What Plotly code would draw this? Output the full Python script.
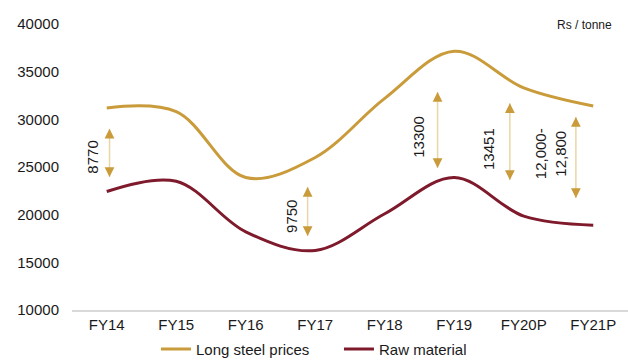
import plotly.graph_objects as go

# Fiscal years on the x axis
years = ["FY14", "FY15", "FY16", "FY17", "FY18", "FY19", "FY20P", "FY21P"]

# Rs / tonne
long_steel = [31200, 30800, 23900, 26000, 32200, 37150, 33300, 31400]
raw_material = [22430, 23500, 18200, 16250, 20100, 23900, 19850, 18900]

# Spread labels written beside the double-headed arrows
spread_labels = ["8770", "9750", "13300", "13451", "12,000-<br>12,800"]

GOLD = "#C99B3A"
MAROON = "#7E1A2B"
PALE = "#E9D6A6"
FONT = "Arial, Liberation Sans, sans-serif"

fig = go.Figure()
fig.add_trace(go.Scatter(
    x=years, y=long_steel, name="Long steel prices", mode="lines",
    line=dict(color=GOLD, width=3, shape="spline", smoothing=1.0),
))
fig.add_trace(go.Scatter(
    x=years, y=raw_material, name="Raw material", mode="lines",
    line=dict(color=MAROON, width=3, shape="spline", smoothing=1.0),
))

# Arrow placement: (category position, lower tip, upper tip, label x, label y)
arrow_geom = [
    (0.04, 23950, 29000, -0.21, 26000),
    (2.89, 17760, 22900, 2.65, 19860),
    (4.76, 24900, 32870, 4.49, 28150),
    (5.80, 23640, 31700, 5.50, 26890),
    (6.75, 21750, 30250, 6.38, 26360),
]

for (ax_x, y_lo, y_hi, lx, ly), label in zip(arrow_geom, spread_labels):
    # pale shaft
    fig.add_shape(type="line", x0=ax_x, x1=ax_x, y0=y_lo, y1=y_hi,
                  xref="x", yref="y", line=dict(color=PALE, width=1.5))
    # arrow heads at both ends
    for tip, off in ((y_hi, 9), (y_lo, -9)):
        fig.add_annotation(x=ax_x, y=tip, xref="x", yref="y", text="",
                           showarrow=True, ax=0, ay=off, arrowhead=2,
                           arrowsize=1.3, arrowwidth=1.5, arrowcolor=GOLD)
    fig.add_annotation(x=lx, y=ly, xref="x", yref="y", text=label,
                       showarrow=False, textangle=-90,
                       font=dict(family=FONT, size=15, color="#1a1a1a"))

fig.add_annotation(x=0.975, y=0.9965, xref="paper", yref="paper",
                   text="Rs / tonne", showarrow=False, xanchor="right",
                   yanchor="middle", font=dict(family=FONT, size=12, color="#1a1a1a"))

fig.update_layout(
    width=628, height=362,
    margin=dict(l=72, r=0, t=24, b=52, autoexpand=False),
    paper_bgcolor="white", plot_bgcolor="white",
    font=dict(family=FONT, size=15, color="#1a1a1a"),
    showlegend=True,
    legend=dict(orientation="h", x=0.151, xanchor="left", y=-0.137,
                yanchor="middle", font=dict(family=FONT, size=15, color="#1a1a1a"),
                entrywidth=138, entrywidthmode="pixels",
                bgcolor="rgba(0,0,0,0)"),
)
fig.update_xaxes(type="category", range=[-0.5, 7.5], showgrid=False,
                 showline=True, linecolor="#D9D9D9", linewidth=1.5,
                 ticks="", zeroline=False, fixedrange=True)
fig.update_yaxes(range=[10000, 40000], dtick=5000, tickformat="d",
                 showgrid=False, showline=False, zeroline=False, ticks="",
                 ticklabelstandoff=12, fixedrange=True)

fig.write_html("out.html")
